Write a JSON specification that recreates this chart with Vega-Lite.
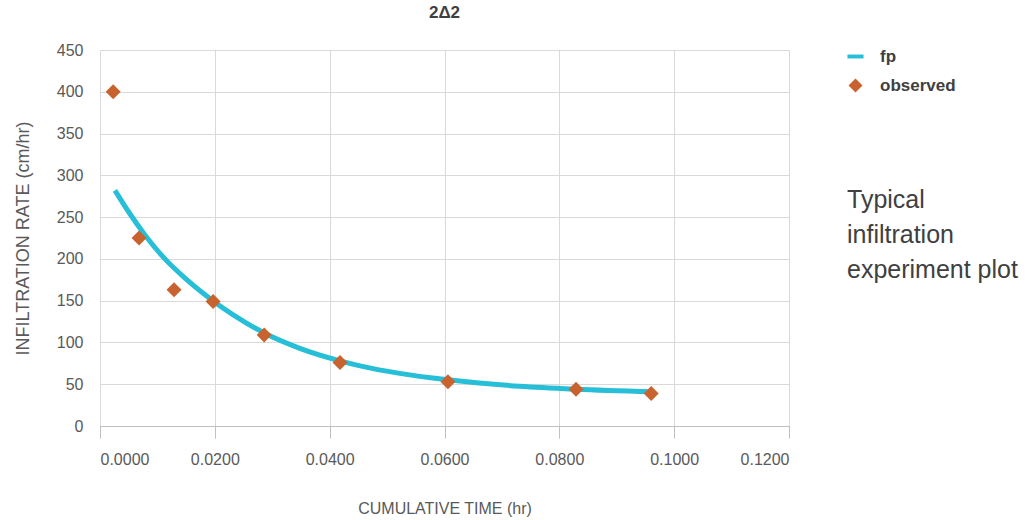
{
  "$schema": "https://vega.github.io/schema/vega-lite/v6.json",
  "autosize": "none",
  "width": 689,
  "height": 376,
  "padding": {"left": 100, "top": 50, "right": 240, "bottom": 94},
  "background": "white",
  "config": {
    "font": "Liberation Sans",
    "view": {"stroke": null},
    "axis": {"gridColor": "#d9d9d9", "gridWidth": 1, "labelColor": "#595959", "titleColor": "#595959", "titleFontWeight": "normal"}
  },
  "title": {"text": "2Δ2", "fontSize": 17, "fontWeight": "bold", "color": "#404040", "anchor": "middle", "offset": 20, "font": "Liberation Sans"},
  "datasets": {
    "fit": [
      {"t": 0.0026, "f": 282},
      {"t": 0.0052, "f": 254},
      {"t": 0.0078, "f": 229},
      {"t": 0.0113, "f": 200},
      {"t": 0.0148, "f": 177},
      {"t": 0.0183, "f": 157},
      {"t": 0.0200, "f": 148},
      {"t": 0.0232, "f": 133},
      {"t": 0.0287, "f": 111},
      {"t": 0.0348, "f": 93},
      {"t": 0.0418, "f": 78},
      {"t": 0.0453, "f": 72},
      {"t": 0.0522, "f": 63},
      {"t": 0.0610, "f": 55},
      {"t": 0.0731, "f": 47.5},
      {"t": 0.0829, "f": 44},
      {"t": 0.0962, "f": 41}
    ],
    "obs": [
      {"t": 0.0023, "f": 400, "series": "observed"},
      {"t": 0.0068, "f": 225, "series": "observed"},
      {"t": 0.0129, "f": 163, "series": "observed"},
      {"t": 0.0197, "f": 149, "series": "observed"},
      {"t": 0.0286, "f": 109, "series": "observed"},
      {"t": 0.0418, "f": 76, "series": "observed"},
      {"t": 0.0606, "f": 53, "series": "observed"},
      {"t": 0.0829, "f": 44, "series": "observed"},
      {"t": 0.096, "f": 39, "series": "observed"}
    ],
    "note": [
      {"t": 0.1301, "f": 270, "label": "Typical"},
      {"t": 0.1301, "f": 228, "label": "infiltration"},
      {"t": 0.1301, "f": 187, "label": "experiment plot"}
    ]
  },
  "encoding": {
    "x": {"field": "t", "type": "quantitative", "scale": {"domain": [0, 0.12], "nice": false, "zero": true},
      "axis": {"title": "CUMULATIVE TIME (hr)", "values": [0, 0.02, 0.04, 0.06, 0.08, 0.1, 0.12], "format": ".4f", "domainColor": "#bfbfbf", "tickColor": "#bfbfbf", "tickSize": 12, "labelPadding": 13, "titlePadding": 33, "labelFont": "Liberation Sans", "labelFontSize": 16, "titleFont": "Liberation Sans", "titleFontSize": 16}},
    "y": {"field": "f", "type": "quantitative", "scale": {"domain": [0, 450], "nice": false},
      "axis": {"title": "INFILTRATION RATE (cm/hr)", "values": [0, 50, 100, 150, 200, 250, 300, 350, 400, 450], "domain": false, "ticks": false, "labelPadding": 17, "titlePadding": 24, "labelFont": "Liberation Sans", "labelFontSize": 16, "titleFont": "Liberation Sans", "titleFontSize": 18}}
  },
  "layer": [
    {
      "data": {"name": "fit"},
      "mark": {"type": "line", "strokeWidth": 5, "interpolate": "monotone", "color": "#26BFD7"}
    },
    {
      "data": {"name": "obs"},
      "mark": {"type": "point", "filled": true, "opacity": 1, "size": 225},
      "encoding": {
        "color": {"field": "series", "type": "nominal", "scale": {"domain": ["fp", "observed"], "range": ["#26BFD7", "#C8632F"]},
          "legend": {"title": null, "orient": "none", "legendX": 747, "legendY": -2, "labelFontSize": 17, "labelFontWeight": "bold", "labelColor": "#404040", "symbolSize": 196, "rowPadding": 10, "labelOffset": 16, "symbolOpacity": 1, "labelFont": "Liberation Sans"}},
        "shape": {"field": "series", "type": "nominal", "scale": {"domain": ["fp", "observed"], "range": ["M-1.15,-0.28H1.15V0.28H-1.15Z", "diamond"]},
          "legend": {"title": null, "orient": "none", "legendX": 747, "legendY": -2, "labelFontSize": 17, "labelFontWeight": "bold", "labelColor": "#404040", "symbolSize": 196, "rowPadding": 10, "labelOffset": 16, "symbolOpacity": 1, "labelFont": "Liberation Sans"}}
      }
    },
    {
      "data": {"name": "note"},
      "mark": {"type": "text", "align": "left", "baseline": "middle", "fontSize": 25, "color": "#404040", "font": "Liberation Sans", "clip": false},
      "encoding": {"text": {"field": "label"}}
    }
  ]
}
